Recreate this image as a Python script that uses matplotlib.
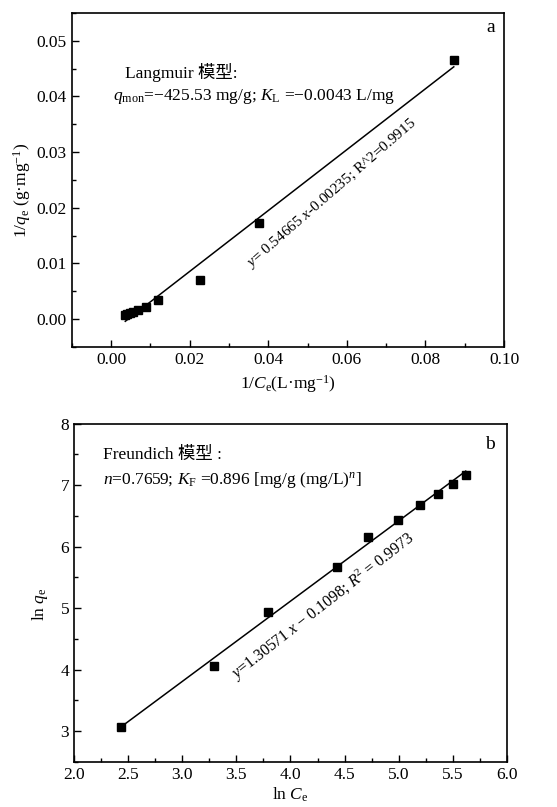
import numpy as np
import matplotlib
matplotlib.use('Agg')
import matplotlib.pyplot as plt
from matplotlib.ticker import MultipleLocator

plt.rcParams['font.family'] = ['Liberation Serif', 'Noto Sans CJK SC']
plt.rcParams['mathtext.fontset'] = 'custom'
plt.rcParams['mathtext.rm'] = 'Liberation Serif'
plt.rcParams['mathtext.it'] = 'Liberation Serif:italic'
plt.rcParams['font.size'] = 12.5

# Langmuir (a): 1/Ce vs 1/qe
inv_ce = [0.0872, 0.0376, 0.0226, 0.0119, 0.0089, 0.0068, 0.0055, 0.0047, 0.0041, 0.0036]
inv_qe = [0.0465, 0.0172, 0.0071, 0.00345, 0.00213, 0.00158, 0.00125, 0.00104, 0.00088, 0.00077]
lang_slope, lang_icpt = 0.54665, -0.00235

# Freundlich (b): ln Ce vs ln qe
ln_ce = [2.43, 3.29, 3.79, 4.43, 4.72, 4.99, 5.20, 5.36, 5.50, 5.62]
ln_qe = [3.06, 4.06, 4.93, 5.67, 6.15, 6.44, 6.67, 6.86, 7.02, 7.16]
fr_slope, fr_icpt = 1.30571, -0.1098

fig = plt.figure(figsize=(5.57, 8.07), dpi=100)
ax1 = fig.add_axes([0.129, 0.570, 0.776, 0.414])
ax2 = fig.add_axes([0.133, 0.056, 0.777, 0.419])

def style(ax):
    ax.tick_params(which='both', direction='in', top=False, right=False)
    ax.tick_params(which='major', length=5, width=1)
    ax.tick_params(which='minor', length=3, width=1)
    for s in ax.spines.values():
        s.set_linewidth(1.2)

# panel a
ax1.plot(inv_ce, inv_qe, 's', color='black', ms=5.5)
xl = np.array([min(inv_ce), max(inv_ce)])
ax1.plot(xl, lang_slope * xl + lang_icpt, color='black', lw=1.1)
ax1.set_xlim(-0.01, 0.10)
ax1.set_ylim(-0.005, 0.055)
ax1.xaxis.set_major_locator(MultipleLocator(0.02))
ax1.xaxis.set_minor_locator(MultipleLocator(0.01))
ax1.yaxis.set_major_locator(MultipleLocator(0.01))
ax1.yaxis.set_minor_locator(MultipleLocator(0.005))
ax1.xaxis.set_major_formatter(plt.FormatStrFormatter('%.2f'))
ax1.yaxis.set_major_formatter(plt.FormatStrFormatter('%.2f'))
style(ax1)
ax1.set_xlabel(r'1/$C_\mathrm{e}$(L·mg$^{-1}$)', labelpad=4)
ax1.set_ylabel(r'1/$q_\mathrm{e}$ (g·mg$^{-1}$)')
ax1.yaxis.set_label_coords(-0.09, 0.47)
ax1.text(0.123, 0.823, 'Langmuir 模型:', transform=ax1.transAxes, va='center', ha='left')
ax1.text(0.095, 0.751, r'$q_\mathrm{mon}$=−425.53 mg/g; $K_\mathrm{L}$ =−0.0043 L/mg',
         transform=ax1.transAxes, va='center', ha='left')
ax1.text(0.968, 0.955, 'a', transform=ax1.transAxes, va='center', ha='center', fontsize=14)
ax1.text(0.0355, 0.0092, r'$y$= 0.54665 $x$-0.00235; R^2=0.9915', rotation=41,
         rotation_mode='anchor', ha='left', va='baseline', fontsize=11)

# panel b
ax2.plot(ln_ce, ln_qe, 's', color='black', ms=5.5)
xl2 = np.array([min(ln_ce), max(ln_ce)])
ax2.plot(xl2, fr_slope * xl2 + fr_icpt, color='black', lw=1.1)
ax2.set_xlim(2.0, 6.0)
ax2.set_ylim(2.5, 8.0)
ax2.xaxis.set_major_locator(MultipleLocator(0.5))
ax2.xaxis.set_minor_locator(MultipleLocator(0.25))
ax2.yaxis.set_major_locator(MultipleLocator(1))
ax2.yaxis.set_minor_locator(MultipleLocator(0.5))
ax2.xaxis.set_major_formatter(plt.FormatStrFormatter('%.1f'))
style(ax2)
ax2.set_xlabel(r'ln $C_\mathrm{e}$', labelpad=2)
ax2.set_ylabel(r'ln $q_\mathrm{e}$')
ax2.yaxis.set_label_coords(-0.055, 0.467)
ax2.text(0.067, 0.908, 'Freundich 模型 :', transform=ax2.transAxes, va='center', ha='left')
ax2.text(0.067, 0.834, r'$n$=0.7659; $K_\mathrm{F}$ =0.896 [mg/g (mg/L)$^n$]',
         transform=ax2.transAxes, va='center', ha='left')
ax2.text(0.961, 0.938, 'b', transform=ax2.transAxes, va='center', ha='center', fontsize=14)
ax2.text(3.50, 3.82, r'$y$=1.30571 $x$ − 0.1098; $R^2$ = 0.9973', rotation=38,
         rotation_mode='anchor', ha='left', va='baseline', fontsize=11.5)

fig.savefig('out.png', dpi=100)
